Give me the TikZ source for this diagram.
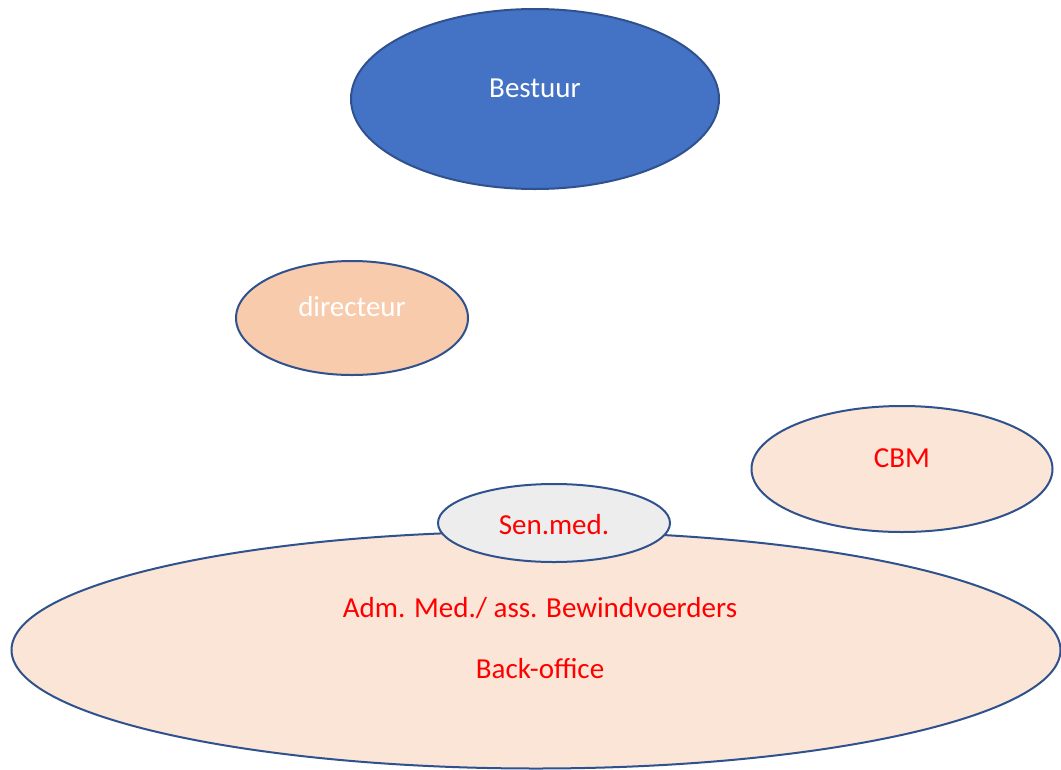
\documentclass[tikz,border=0pt]{standalone}
\usepackage{fontspec}
\setmainfont{Carlito}
\usetikzlibrary{shapes.geometric}
\definecolor{edgeblue}{HTML}{2F528F}
\definecolor{bestfill}{HTML}{4472C4}
\definecolor{dirfill}{HTML}{F8CBAD}
\definecolor{peach}{HTML}{FBE5D6}
\definecolor{greyfill}{HTML}{EDEDED}
\definecolor{redtxt}{HTML}{FF0000}
\tikzset{
  oval/.style={ellipse, draw=edgeblue, line width=2pt, inner sep=0pt},
  lbl/.style={font=\fontsize{29}{34}\selectfont, inner sep=0pt, anchor=center},
}
\begin{document}
\begin{tikzpicture}[x=1pt,y=-1pt]
\useasboundingbox (0,0) rectangle (1061,769);
\fill[white] (0,0) rectangle (1061,769);
% ellipses
\node[oval, fill=bestfill, minimum width=368pt, minimum height=180pt] (bestuur) at (535,99) {};
\node[oval, fill=dirfill, minimum width=232pt, minimum height=114pt] (directeur) at (352,318) {};
\node[oval, fill=peach, minimum width=301pt, minimum height=126pt] (cbm) at (902,469) {};
\node[oval, fill=peach, minimum width=1049pt, minimum height=237pt] (bo) at (536,650) {};
\node[oval, fill=greyfill, minimum width=232pt, minimum height=78pt] (sen) at (554,523) {};
% texts
\node[lbl, text=white] (tbestuur) at (535,88) {Bestuur};
\node[lbl, text=white] (tdir) at (352,307) {directeur};
\node[lbl, text=redtxt] (tcbm) at (902,458) {CBM};
\node[lbl, text=redtxt] (tsen) at (554,525) {Sen.med.};
\node[lbl, text=redtxt] (tadm) at (540,608) {Adm. Med./ ass. Bewindvoerders};
\node[lbl, text=redtxt] (tbo) at (540,669) {Back-office};
\end{tikzpicture}
\end{document}
